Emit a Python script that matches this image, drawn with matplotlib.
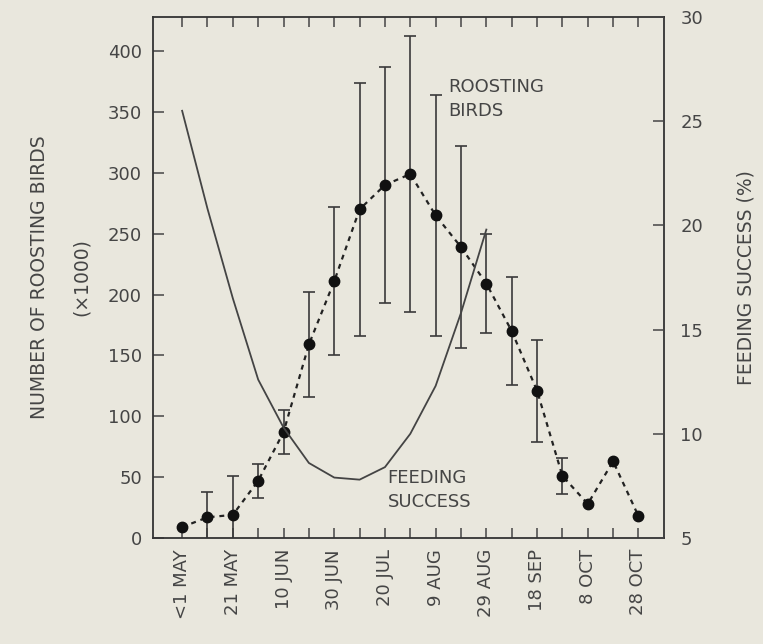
import numpy as np
import matplotlib.pyplot as plt

# ── Datos ───────────────────────────────────────────────────────────────────
dates = ['<1 MAY', '11 MAY', '21 MAY', '31 MAY', '10 JUN', '20 JUN', '30 JUN',
         '10 JUL', '20 JUL', '30 JUL', '9 AUG', '19 AUG', '29 AUG', '8 SEP',
         '18 SEP', '28 SEP', '8 OCT', '18 OCT', '28 OCT']
roosting = [9, 17, 19, 47, 87, 159, 211, 270, 290, 299, 265, 239, 209, 170,
            121, 51, 28, 63, 18]
roost_err = [0, 21, 32, 14, 18, 43, 61, 104, 97, 113, 99, 83, 41, 44,
             42, 15, 0, 0, 0]
feeding = [25.5, 20.8, 16.5, 12.6, 10.3, 8.6, 7.9, 7.8, 8.4, 10.0, 12.3,
           15.8, 19.8]

bg = '#e9e7dd'
ink = '#454545'
plt.rcParams['font.family'] = 'DejaVu Sans'

x = np.arange(len(dates))
roosting = np.array(roosting, dtype=float)
roost_err = np.array(roost_err, dtype=float)
has_err = roost_err > 0

fig = plt.figure(figsize=(7.63, 6.44), dpi=100, facecolor=bg)
ax = fig.add_axes([0.2005, 0.1646, 0.6695, 0.809])
ax.set_facecolor(bg)

# Aves en dormidero
ax.plot(x, roosting, linestyle=(0, (2.2, 2.2)), color='#222222', lw=1.6,
        marker='o', ms=7.5, mfc='#111111', mec='#111111', zorder=3)
ax.errorbar(x[has_err], roosting[has_err], yerr=roost_err[has_err], fmt='none',
            ecolor='#3a3a3a', elinewidth=1.2, capsize=4.5, capthick=1.2, zorder=2)

ax.set_xlim(-1.15, 19.0)
ax.set_ylim(0, 428)
ax.set_yticks(np.arange(0, 401, 50))
ax.set_xticks(x)
ax.set_xticklabels([d if i % 2 == 0 else '' for i, d in enumerate(dates)],
                   rotation=90)
ax.tick_params(axis='both', direction='in', colors=ink, labelsize=13,
               width=1.1)
ax.tick_params(axis='y', length=8, pad=8, left=True, right=False)
ax.tick_params(axis='x', length=7, pad=8, top=True, bottom=True)
for s in ax.spines.values():
    s.set_color('#333333')
    s.set_linewidth(1.3)
ax.set_ylabel('NUMBER OF ROOSTING BIRDS\n(×1000)', fontsize=13.5, color=ink,
              labelpad=12, linespacing=2.5)

ax.text(10.5, 378, 'ROOSTING\nBIRDS', fontsize=13, color=ink, ha='left',
        va='top', linespacing=1.45)
ax.text(8.1, 57, 'FEEDING\nSUCCESS', fontsize=13, color=ink, ha='left',
        va='top', linespacing=1.45)

# Éxito de alimentación
ax2 = ax.twinx()
ax2.plot(np.arange(len(feeding)), feeding, color='#444444', lw=1.3)
ax2.set_ylim(5, 30)
ax2.set_yticks(np.arange(5, 31, 5))
ax2.tick_params(axis='y', direction='in', length=8, pad=12, colors=ink,
                labelsize=13, width=1.1)
for s in ax2.spines.values():
    s.set_visible(False)
ax2.set_ylabel('FEEDING SUCCESS (%)', fontsize=13.5, color=ink, labelpad=24)

plt.savefig('out.png', dpi=100, facecolor=bg)
